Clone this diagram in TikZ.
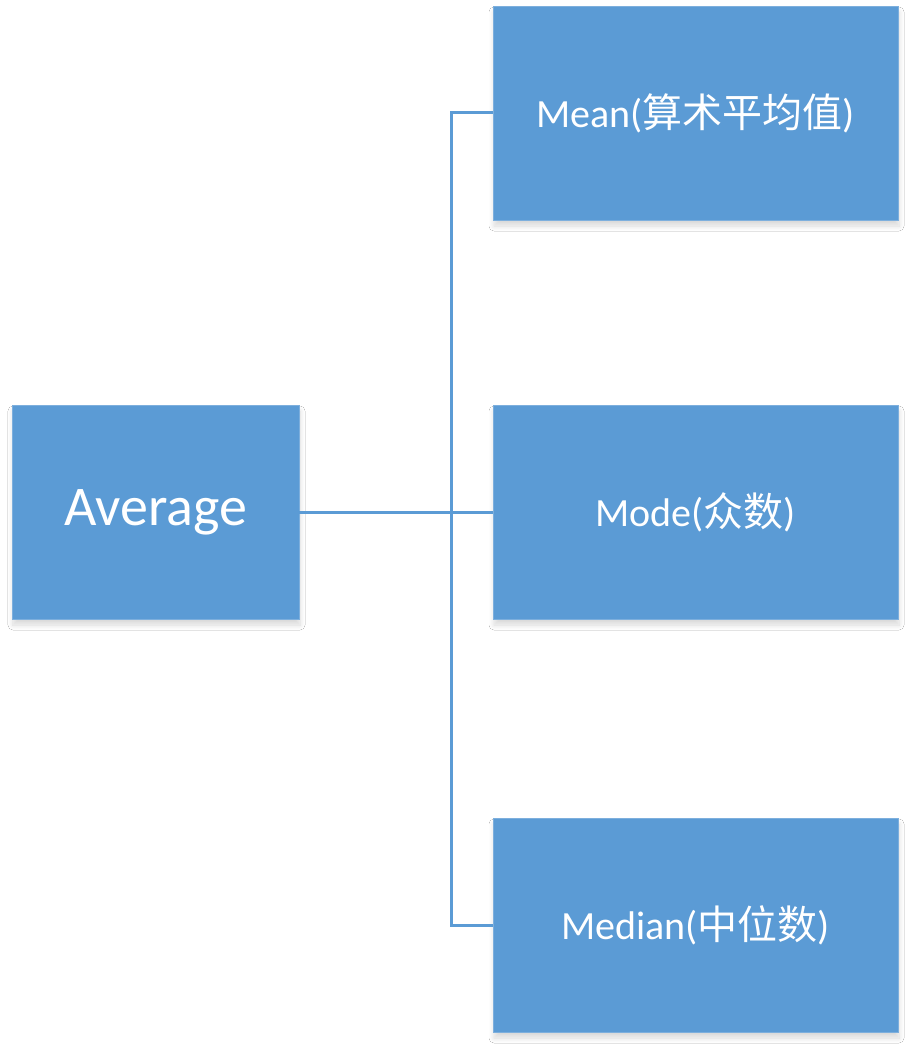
\documentclass[tikz,border=0pt]{standalone}
\usepackage{fontspec}
\setmainfont{Carlito}
\newfontfamily\cjk{Noto Sans CJK SC}
\usetikzlibrary{shadows.blur}
\definecolor{boxblue}{HTML}{5B9BD5}
\definecolor{boxedge}{HTML}{7DAFDD}
\tikzset{
  box/.style={rectangle, fill=boxblue, draw=boxedge, line width=0.8pt, inner sep=0pt,
    text=white, minimum height=214pt, align=center,
    blur shadow={shadow xshift=1pt, shadow yshift=-6pt, shadow blur steps=8, shadow blur radius=5pt, shadow opacity=15}},
  leaf/.style={box, minimum width=405pt, font=\fontsize{40}{46}\selectfont},
  link/.style={draw=boxblue, line width=3pt}
}
\begin{document}
\begin{tikzpicture}[x=1pt,y=-1pt]
\useasboundingbox[fill=white] (0,0) rectangle (914,1054);
\node[box, minimum width=287pt, font=\fontsize{56}{62}\selectfont] (avg) at (155.5,512) {Average};
\node[leaf] (mean) at (695.5,113) {Mean({\cjk 算术平均值})};
\node[leaf] (mode) at (695.5,512) {Mode({\cjk 众数})};
\node[leaf] (median) at (695.5,925) {Median({\cjk 中位数})};
\coordinate (j) at (451,512);
\draw[link] (avg.east) -- (mode.west);
\draw[link] (mean.west) -| (j) |- (median.west);
\end{tikzpicture}
\end{document}
